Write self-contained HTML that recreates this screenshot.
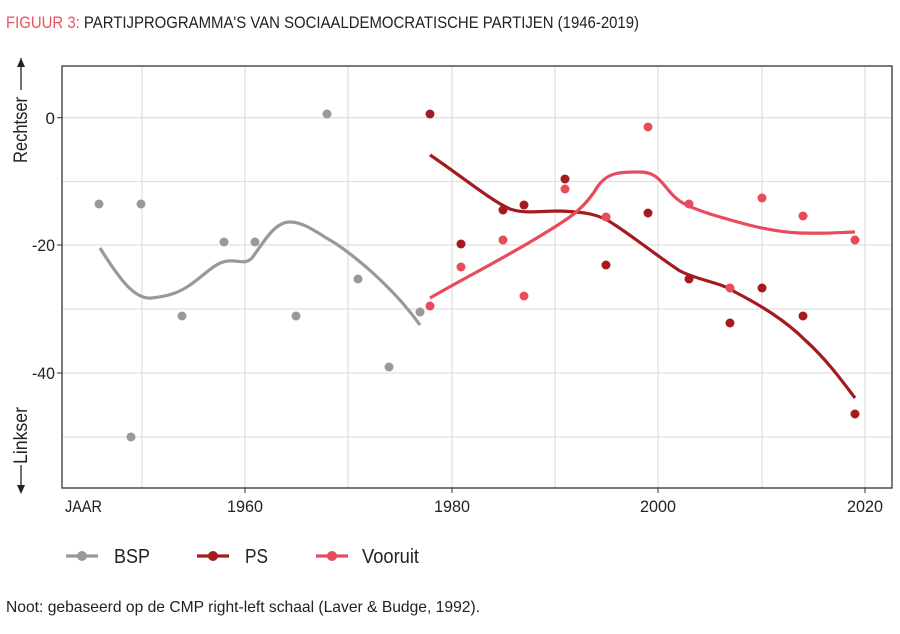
<!DOCTYPE html>
<html><head><style>
body{margin:0;background:#fff;width:900px;height:629px;overflow:hidden;font-family:"Liberation Sans",sans-serif}
</style></head><body>
<svg width="900" height="629" xmlns="http://www.w3.org/2000/svg" font-family="Liberation Sans, sans-serif">
<text x="6" y="28" font-size="17" fill="#222" textLength="633" lengthAdjust="spacingAndGlyphs"><tspan fill="#e8525f">FIGUUR 3: </tspan>PARTIJPROGRAMMA'S VAN SOCIAALDEMOCRATISCHE PARTIJEN (1946-2019)</text>
<g stroke="#e0e0e0" stroke-width="1.3">
<line x1="62" x2="892" y1="117.7" y2="117.7"/><line x1="62" x2="892" y1="181.5" y2="181.5"/>
<line x1="62" x2="892" y1="245" y2="245"/><line x1="62" x2="892" y1="309" y2="309"/>
<line x1="62" x2="892" y1="373" y2="373"/><line x1="62" x2="892" y1="437" y2="437"/>
<line x1="142" x2="142" y1="66" y2="488"/><line x1="245" x2="245" y1="66" y2="488"/>
<line x1="348" x2="348" y1="66" y2="488"/><line x1="452" x2="452" y1="66" y2="488"/>
<line x1="555" x2="555" y1="66" y2="488"/><line x1="658" x2="658" y1="66" y2="488"/>
<line x1="762" x2="762" y1="66" y2="488"/><line x1="865" x2="865" y1="66" y2="488"/>
</g>
<rect x="62" y="66" width="830" height="422" fill="none" stroke="#333" stroke-width="1.3"/>
<g stroke="#333"><line x1="57" x2="62" y1="117.7" y2="117.7"/><line x1="57" x2="62" y1="245" y2="245"/><line x1="57" x2="62" y1="373" y2="373"/>
<line x1="245" x2="245" y1="488" y2="493"/><line x1="452" x2="452" y1="488" y2="493"/><line x1="658" x2="658" y1="488" y2="493"/><line x1="865" x2="865" y1="488" y2="493"/></g>
<g font-size="17" fill="#222" text-anchor="end"><text x="55" y="124">0</text><text x="55" y="251" textLength="23" lengthAdjust="spacingAndGlyphs">-20</text><text x="55" y="379" textLength="23" lengthAdjust="spacingAndGlyphs">-40</text></g>
<g font-size="17" fill="#222"><text x="65" y="512" textLength="37" lengthAdjust="spacingAndGlyphs">JAAR</text><text x="227" y="512" textLength="36" lengthAdjust="spacingAndGlyphs">1960</text><text x="434" y="512" textLength="36" lengthAdjust="spacingAndGlyphs">1980</text><text x="640" y="512" textLength="36" lengthAdjust="spacingAndGlyphs">2000</text><text x="847" y="512" textLength="36" lengthAdjust="spacingAndGlyphs">2020</text></g>
<text transform="translate(27,163) rotate(-90)" font-size="19" fill="#222" textLength="66" lengthAdjust="spacingAndGlyphs">Rechtser</text>
<text transform="translate(27,464) rotate(-90)" font-size="19" fill="#222" textLength="57" lengthAdjust="spacingAndGlyphs">Linkser</text>
<line x1="21" y1="58" x2="21" y2="90" stroke="#222" stroke-width="1.3"/><polygon points="21,58 17,67 25,67" fill="#222"/>
<line x1="21" y1="465" x2="21" y2="492" stroke="#222" stroke-width="1.3"/><polygon points="21,494 17,485 25,485" fill="#222"/>
<path d="M100,248 C120,280 135,300 152,298 C170,296 180,292 190,285 C205,275 215,262 228,261 C240,260 245,265 252,258 C265,240 275,222 290,222 C305,222 320,235 335,243 C360,260 395,290 420,325" fill="none" stroke="#999" stroke-width="3.2"/>
<path d="M430,155 C460,175 490,200 510,209 C525,214 540,211 560,211 C585,212 600,214 615,225 C635,238 660,258 680,271 C700,281 720,282 735,292 C760,305 785,320 805,340 C825,358 840,378 855,398" fill="none" stroke="#a31b1f" stroke-width="3.2"/>
<path d="M430,298 C470,275 510,255 545,233 C570,218 585,208 598,186 C608,172 620,172 640,172 C655,172 660,180 670,192 C680,204 690,207 710,214 C740,223 770,232 800,233 C830,234 845,232 855,232" fill="none" stroke="#e84b5c" stroke-width="3.2"/>
<g fill="#999"><circle cx="99" cy="204" r="4.5"/><circle cx="131" cy="437" r="4.5"/><circle cx="141" cy="204" r="4.5"/><circle cx="182" cy="316" r="4.5"/><circle cx="224" cy="242" r="4.5"/><circle cx="255" cy="242" r="4.5"/><circle cx="296" cy="316" r="4.5"/><circle cx="327" cy="114" r="4.5"/><circle cx="358" cy="279" r="4.5"/><circle cx="389" cy="367" r="4.5"/><circle cx="420" cy="312" r="4.5"/></g>
<g fill="#a31b1f"><circle cx="430" cy="114" r="4.5"/><circle cx="461" cy="244" r="4.5"/><circle cx="503" cy="210" r="4.5"/><circle cx="524" cy="205" r="4.5"/><circle cx="565" cy="179" r="4.5"/><circle cx="606" cy="265" r="4.5"/><circle cx="648" cy="213" r="4.5"/><circle cx="689" cy="279" r="4.5"/><circle cx="730" cy="323" r="4.5"/><circle cx="762" cy="288" r="4.5"/><circle cx="803" cy="316" r="4.5"/><circle cx="855" cy="414" r="4.5"/></g>
<g fill="#e84b5c"><circle cx="430" cy="306" r="4.5"/><circle cx="461" cy="267" r="4.5"/><circle cx="503" cy="240" r="4.5"/><circle cx="524" cy="296" r="4.5"/><circle cx="565" cy="189" r="4.5"/><circle cx="606" cy="217" r="4.5"/><circle cx="648" cy="127" r="4.5"/><circle cx="689" cy="204" r="4.5"/><circle cx="730" cy="288" r="4.5"/><circle cx="762" cy="198" r="4.5"/><circle cx="803" cy="216" r="4.5"/><circle cx="855" cy="240" r="4.5"/></g>
<g stroke-width="3.2">
<line x1="66" x2="98" y1="556" y2="556" stroke="#999"/><circle cx="82" cy="556" r="5" fill="#999"/>
<line x1="197" x2="229" y1="556" y2="556" stroke="#a31b1f"/><circle cx="213" cy="556" r="5" fill="#a31b1f"/>
<line x1="316" x2="348" y1="556" y2="556" stroke="#e84b5c"/><circle cx="332" cy="556" r="5" fill="#e84b5c"/>
</g>
<g font-size="20" fill="#222"><text x="114" y="563" textLength="36" lengthAdjust="spacingAndGlyphs">BSP</text><text x="245" y="563" textLength="23" lengthAdjust="spacingAndGlyphs">PS</text><text x="362" y="563" textLength="57" lengthAdjust="spacingAndGlyphs">Vooruit</text></g>
<text x="6" y="612" font-size="16" fill="#222" textLength="474" lengthAdjust="spacingAndGlyphs">Noot: gebaseerd op de CMP right-left schaal (Laver &amp; Budge, 1992).</text>
</svg>
</body></html>
